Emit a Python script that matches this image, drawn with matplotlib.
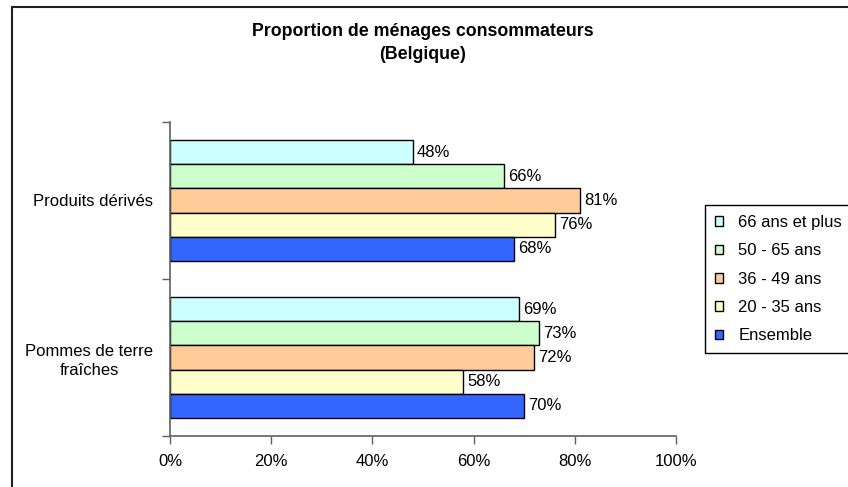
import numpy as np
import matplotlib.pyplot as plt
from matplotlib.patches import Rectangle
from matplotlib.ticker import FuncFormatter

plt.rcParams['font.family'] = ['Liberation Sans', 'DejaVu Sans']

# donnees
categories = ["Pommes de terre\nfraîches", "Produits dérivés"]
series = ["66 ans et plus", "50 - 65 ans", "36 - 49 ans", "20 - 35 ans", "Ensemble"]
values = {
    "66 ans et plus": [69, 48],
    "50 - 65 ans": [73, 66],
    "36 - 49 ans": [72, 81],
    "20 - 35 ans": [58, 76],
    "Ensemble": [70, 68],
}
colors = ["#CCFFFF", "#CCFFCC", "#FFCC99", "#FFFFCC", "#3366FF"]
x_ticks = [0, 20, 40, 60, 80, 100]

FS = 12
W, H = 848, 487
fig = plt.figure(figsize=(W / 100, H / 100), dpi=100)
ax = fig.add_axes([170 / W, 1 - 436 / H, 506 / W, 314 / H])

# cadre du graphique (coupe a droite et en bas)
fig.patches.append(Rectangle((12 / W, -0.1), 1.2, 1.1 - 7 / H, transform=fig.transFigure,
                             fill=False, edgecolor="#202020", linewidth=1.5))

y = np.arange(len(categories))
h = 0.153
for i, s in enumerate(series):
    off = (2 - i) * h
    bars = ax.barh(y + off, values[s], height=h, color=colors[i], edgecolor="black",
                   linewidth=1, label=s)
    ax.bar_label(bars, labels=["%d%%" % v for v in values[s]], padding=3, fontsize=FS)

ax.set_xlim(0, 100)
ax.set_ylim(-0.5, 1.5)
ax.set_xticks(x_ticks)
ax.xaxis.set_major_formatter(FuncFormatter(lambda v, p: "%d%%" % v))
ax.tick_params(axis="x", direction="out", length=6, width=1, color="#606060",
               labelsize=FS, pad=7)

ax.set_yticks(y)
ax.set_yticklabels(categories, fontsize=FS)
for lab in ax.get_yticklabels():
    lab.set_multialignment("center")
    lab.set_linespacing(1.3)
ax.tick_params(axis="y", which="major", length=0, pad=12)
ax.set_yticks([-0.5, 0.5, 1.5], minor=True)
ax.tick_params(axis="y", which="minor", direction="out", length=6, width=1, color="#606060")

for sp in ["top", "right"]:
    ax.spines[sp].set_visible(False)
for sp in ["left", "bottom"]:
    ax.spines[sp].set_color("#606060")
    ax.spines[sp].set_linewidth(1.2)

fig.text(423 / W, 1 - 43 / H, "Proportion de ménages consommateurs\n(Belgique)",
         ha="center", va="center", ma="center", fontsize=12.8, fontweight="bold",
         linespacing=1.45)

leg = fig.legend(loc="upper left", bbox_to_anchor=(705 / W, 1 - 205 / H),
                 bbox_transform=fig.transFigure, fontsize=FS, frameon=True,
                 fancybox=False, framealpha=1, edgecolor="black",
                 handlelength=0.5, handleheight=0.5, handletextpad=0.9,
                 labelspacing=0.8, borderpad=0.6, borderaxespad=0)
leg.get_frame().set_linewidth(1)

fig.savefig("out.png", dpi=100)
